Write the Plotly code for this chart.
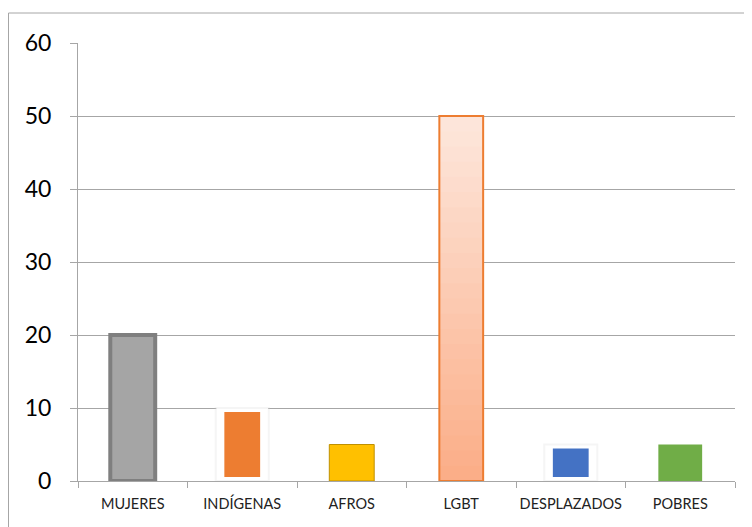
import plotly.graph_objects as go

categories = ["MUJERES", "INDÍGENAS", "AFROS", "LGBT", "DESPLAZADOS", "POBRES"]
values = [20, 10, 5, 50, 5, 5]
y_ticks = [0, 10, 20, 30, 40, 50, 60]

fill_colors = ["#A5A5A5", "#ED7D31", "#FFC000", "#FDE5DA", "#4472C4", "#70AD47"]
line_colors = ["#7F7F7F", "#FFFFFF", "#BF9000", "#ED7D31", "#FFFFFF", "#70AD47"]
line_widths = [4, 8, 1, 0, 8, 0]
bar_widths = [0.41, 0.40, 0.41, 0.40, 0.40, 0.40]

fig = go.Figure()
fig.add_trace(go.Bar(
    x=categories, y=values, width=bar_widths,
    marker=dict(color=fill_colors, line=dict(color=line_colors, width=line_widths)),
    showlegend=False, hoverinfo="x+y",
))
# faint shadow around the white-framed bars
shadow_cats = [categories[1], categories[4]]
shadow_vals = [values[1], values[4]]
fig.add_trace(go.Bar(
    x=shadow_cats, y=shadow_vals, width=[0.485, 0.485],
    marker=dict(color="rgba(0,0,0,0)", line=dict(color="rgba(215,215,215,0.25)", width=2)),
    showlegend=False, hoverinfo="skip",
))

# vertical gradient for the LGBT bar (light top -> darker bottom)
top_rgb = (253, 230, 219)
bot_rgb = (251, 174, 136)
steps = 24
lgbt_idx = 3
for k in range(1, steps):
    frac = 1 - k / steps
    t = k / (steps - 1)
    c = tuple(int(round(top_rgb[i] + (bot_rgb[i] - top_rgb[i]) * t)) for i in range(3))
    fig.add_trace(go.Bar(
        x=[categories[lgbt_idx]], y=[values[lgbt_idx] * frac], width=[bar_widths[lgbt_idx]],
        marker=dict(color="rgb(%d,%d,%d)" % c, line=dict(width=0)),
        showlegend=False, hoverinfo="skip",
    ))
fig.add_trace(go.Bar(
    x=[categories[lgbt_idx]], y=[values[lgbt_idx]], width=[bar_widths[lgbt_idx]],
    marker=dict(color="rgba(0,0,0,0)", line=dict(color="#ED7D31", width=2)),
    showlegend=False, hoverinfo="skip",
))

W, H = 752, 527
L, R, T, B = 70, 25, 35, 54
pw, ph = W - L - R, H - T - B

fig.update_layout(
    width=W, height=H,
    margin=dict(l=L, r=R, t=T, b=B),
    barmode="overlay",
    paper_bgcolor="white", plot_bgcolor="white",
    font=dict(family="Lato, Liberation Sans, sans-serif", color="#000000"),
    xaxis=dict(
        categoryorder="array", categoryarray=categories,
        showline=True, linecolor="#A6A6A6", linewidth=1,
        ticks="outside", tickson="boundaries", ticklen=6, tickcolor="#A6A6A6",
        tickfont=dict(size=14.5, color="#222222"), showgrid=False,
        tickangle=0, automargin=False, ticklabelstandoff=10,
    ),
    yaxis=dict(
        range=[0, 60], tickvals=y_ticks, showline=True, linecolor="#A6A6A6", linewidth=1,
        ticks="outside", ticklen=7, tickcolor="#A6A6A6",
        gridcolor="#A6A6A6", gridwidth=1, zeroline=False, automargin=False,
        tickfont=dict(size=23, color="#000000"), ticklabelstandoff=14,
    ),
    shapes=[
        dict(type="line", xref="paper", yref="paper",
             x0=(0.5 - L) / pw, x1=(W + 5 - L) / pw, y0=(H - B - 5) / ph, y1=(H - B - 5) / ph,
             line=dict(color="#A6A6A6", width=1)),
        dict(type="line", xref="paper", yref="paper",
             x0=(0.5 - L) / pw, x1=(0.5 - L) / pw, y0=(H - B - 5) / ph, y1=-0.3,
             line=dict(color="#A6A6A6", width=1)),
    ],
)

fig.write_html("out.html")
